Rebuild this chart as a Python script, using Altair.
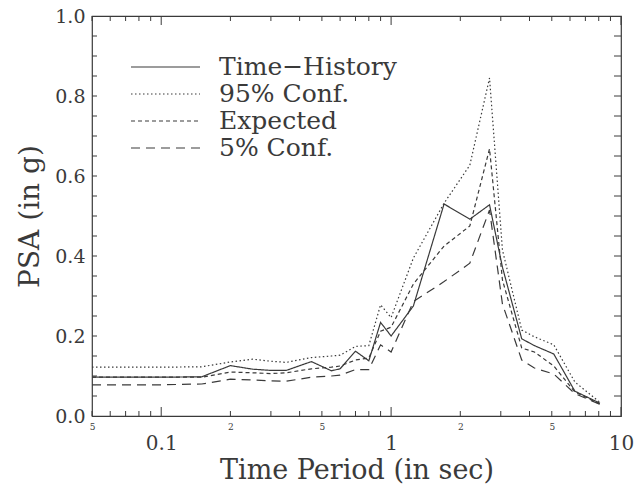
import altair as alt
import pandas as pd

# ---- data ----
periods = [0.05, 0.10, 0.15, 0.20, 0.25, 0.30, 0.35, 0.45, 0.55, 0.60, 0.70, 0.80,
           0.90, 1.00, 1.25, 1.70, 2.20, 2.68, 3.05, 3.70, 4.20, 5.10, 6.30, 8.10]
time_history = [0.097, 0.097, 0.098, 0.126, 0.117, 0.114, 0.114, 0.136, 0.113, 0.118, 0.162, 0.138,
                0.234, 0.200, 0.275, 0.530, 0.492, 0.528, 0.372, 0.193, 0.176, 0.155, 0.062, 0.032]
conf95 = [0.122, 0.122, 0.123, 0.135, 0.142, 0.137, 0.134, 0.146, 0.150, 0.152, 0.174, 0.176,
          0.278, 0.246, 0.395, 0.532, 0.627, 0.845, 0.415, 0.215, 0.198, 0.178, 0.085, 0.034]
expected = [0.097, 0.097, 0.097, 0.110, 0.108, 0.106, 0.108, 0.118, 0.122, 0.125, 0.140, 0.145,
            0.212, 0.222, 0.330, 0.425, 0.475, 0.668, 0.340, 0.170, 0.160, 0.125, 0.060, 0.030]
conf5 = [0.078, 0.078, 0.080, 0.092, 0.090, 0.088, 0.087, 0.097, 0.100, 0.102, 0.116, 0.116,
         0.178, 0.160, 0.286, 0.336, 0.382, 0.515, 0.280, 0.140, 0.120, 0.105, 0.056, 0.029]
series_names = ["Time\u2212History", "95% Conf.", "Expected", "5% Conf."]
series_dashes = [[1, 0], [1.5, 2.5], [4, 3], [9, 6]]

x_major_ticks = [0.1, 1, 10]
x_minor_ticks = [0.05, 0.06, 0.07, 0.08, 0.09, 0.2, 0.3, 0.4, 0.5, 0.6, 0.7, 0.8, 0.9,
                 2, 3, 4, 5, 6, 7, 8, 9]
x_label_values = [0.05, 0.1, 0.2, 0.5, 1, 2, 5, 10]
x_label_texts = ["5", "0.1", "2", "5", "1", "2", "5", "10"]
y_label_values = [0.0, 0.2, 0.4, 0.6, 0.8, 1.0]
y_tick_values = [round(0.05 * i, 2) for i in range(1, 20)]

FONT = "DejaVu Serif"
INK = "#3a3a3a"
W, H = 529, 400

# ---- tables ----
rows = []
for name, vals in zip(series_names, [time_history, conf95, expected, conf5]):
    for p, v in zip(periods, vals):
        rows.append({"period": p, "psa": v, "series": name})
df = pd.DataFrame(rows)
leg = pd.DataFrame({"series": series_names})

xmaj = pd.DataFrame({"t": x_major_ticks})
xmin = pd.DataFrame({"t": x_minor_ticks})
ytk = pd.DataFrame({"v": y_tick_values})

xscale = alt.Scale(type="log", domain=[0.05, 10], nice=False)
yscale = alt.Scale(domain=[0, 1], nice=False)
dash_scale = alt.Scale(domain=series_names, range=series_dashes)

label_expr = " : ".join(
    f"datum.value == {v} ? '{t}'" for v, t in zip(x_label_values, x_label_texts)
) + " : ''"
major_test = " || ".join(f"datum.value == {v}" for v in x_major_ticks)

lines = alt.Chart(df).mark_line(strokeWidth=1.2, color=INK).encode(
    x=alt.X("period:Q", scale=xscale,
            axis=alt.Axis(values=x_label_values, labelExpr=label_expr,
                          title="Time Period (in sec)", ticks=False, domain=False, grid=False,
                          labelFont=FONT, labelColor=INK, labelFlush=False, labelOverlap=False,
                          labelFontSize={"condition": {"test": major_test, "value": 20}, "value": 9},
                          labelPadding={"condition": {"test": major_test, "value": 17}, "value": 6},
                          titleFont=FONT, titleFontSize=27, titleFontWeight="normal",
                          titleColor=INK, titlePadding=4)),
    y=alt.Y("psa:Q", scale=yscale,
            axis=alt.Axis(values=y_label_values, format=".1f", title="PSA (in g)",
                          ticks=False, domain=False, grid=False,
                          labelFont=FONT, labelFontSize=19, labelColor=INK, labelPadding=7,
                          titleFont=FONT, titleFontSize=28, titleFontWeight="normal",
                          titleColor=INK, titlePadding=10)),
    strokeDash=alt.StrokeDash("series:N", scale=dash_scale, legend=None),
    order=alt.Order("period:Q"),
)

leg_y = alt.Y("series:N", scale=alt.Scale(type="point", domain=series_names,
                                          range=[51, 132], padding=0), axis=None)
leg_lines = alt.Chart(leg).mark_rule(strokeWidth=1.2, color=INK).encode(
    y=leg_y, x=alt.value(39), x2=alt.value(108),
    strokeDash=alt.StrokeDash("series:N", scale=dash_scale, legend=None),
)
leg_text = alt.Chart(leg).mark_text(align="left", baseline="middle", font=FONT,
                                    fontSize=25, color=INK).encode(
    y=leg_y, x=alt.value(127), text="series:N",
)

def xrule(data, y0, y1):
    return alt.Chart(data).mark_rule(color=INK, strokeWidth=1).encode(
        x=alt.X("t:Q", scale=xscale, axis=None),
        y=alt.value(y0), y2=alt.value(y1))

def yrule(x0, x1):
    return alt.Chart(ytk).mark_rule(color=INK, strokeWidth=1).encode(
        y=alt.Y("v:Q", scale=yscale, axis=None),
        x=alt.value(x0), x2=alt.value(x1))

chart = alt.layer(
    lines,
    xrule(xmaj, H, H - 9), xrule(xmin, H, H - 5),
    xrule(xmaj, 0, 9), xrule(xmin, 0, 5),
    yrule(0, 5), yrule(W, W - 7),
    leg_lines, leg_text,
).resolve_scale(y="independent").resolve_axis(x="independent", y="independent").properties(
    width=W, height=H,
    autosize=alt.AutoSizeParams(type="none"),
    padding={"left": 92, "top": 16, "right": 15, "bottom": 72},
    background="white",
).configure_view(stroke=INK, strokeWidth=1.2)

chart.save("out.html", embed_options={"renderer": "svg", "actions": False})
